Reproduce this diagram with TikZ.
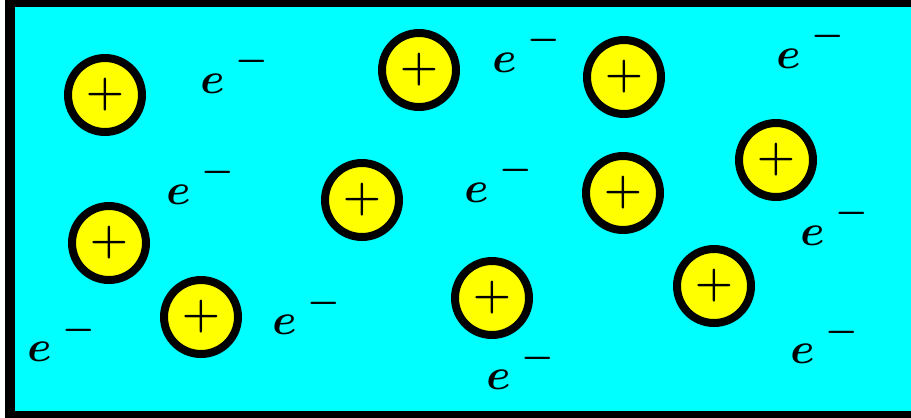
\documentclass[tikz,border=0pt]{standalone}
\usepackage{amsmath,amssymb}
\usetikzlibrary{calc}
\definecolor{sea}{RGB}{0,255,255}
\definecolor{ionfill}{RGB}{255,255,0}
\newcommand{\elec}{$e^{\hspace{6pt}\raisebox{3.5pt}{$\scriptstyle-$}}$}

\begin{document}
\begin{tikzpicture}[x=0.02cm,y=-0.02cm,
  ion/.style={circle,draw=black,line width=0.16cm,fill=ionfill,minimum size=1.48cm,inner sep=0pt,font=\fontsize{24}{24}\selectfont\boldmath},
  electron/.style={anchor=base west,inner sep=0pt,font=\fontsize{30}{30}\selectfont\boldmath}]
  \useasboundingbox (0,0) rectangle (911,417);
  \begin{scope}
    \clip (0,0) rectangle (911,417);
    \draw[line width=0.2cm,fill=sea] (10,2) rectangle (930,416);
  \end{scope}

  % positive ions
  \node[ion] (p1) at (105,95) {$+$};
  \node[ion] (p2) at (419,70) {$+$};
  \node[ion] (p3) at (624,77) {$+$};
  \node[ion] (p4) at (776,160) {$+$};
  \node[ion] (p5) at (362,200) {$+$};
  \node[ion] (p6) at (623,193) {$+$};
  \node[ion] (p7) at (109,243) {$+$};
  \node[ion] (p8) at (492,298) {$+$};
  \node[ion] (p9) at (714,286) {$+$};
  \node[ion] (p10) at (201,317) {$+$};

  % free electrons
  \node[electron] (e1) at (200,93) {\elec};
  \node[electron] (e2) at (492,72) {\elec};
  \node[electron] (e3) at (776,68) {\elec};
  \node[electron] (e4) at (166,204) {\elec};
  \node[electron] (e5) at (464,202) {\elec};
  \node[electron] (e6) at (800,245) {\elec};
  \node[electron] (e7) at (272,334) {\elec};
  \node[electron] (e8) at (27,361) {\elec};
  \node[electron] (e9) at (486,389) {\elec};
  \node[electron] (e10) at (790,363) {\elec};
\end{tikzpicture}
\end{document}
